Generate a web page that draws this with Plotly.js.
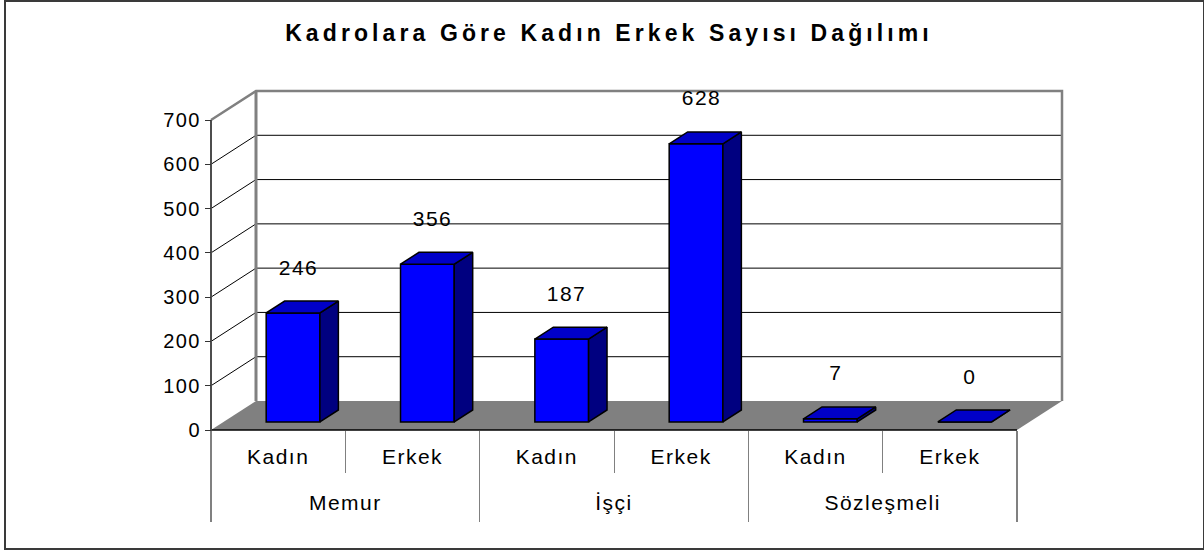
<!DOCTYPE html>
<html><head><meta charset="utf-8">
<script src="https://cdn.plot.ly/plotly-3.0.1.min.js"></script>
<style>
html,body{margin:0;padding:0;background:#fff;}
#wrap{position:relative;width:1204px;height:551px;}
#chart{width:1204px;height:551px;}
#frame{position:absolute;left:4px;top:0px;width:1197px;height:546px;border:2px solid #3a3a3a;pointer-events:none;}
#chart svg text{letter-spacing:1.5px;}
#chart svg text.gtitle{letter-spacing:4.1px;}
</style></head>
<body><div id="wrap"><div id="chart"></div><div id="frame"></div></div>
<script>
// ---- data ----
const groups  = ['Memur','Memur','İşçi','İşçi','Sözleşmeli','Sözleşmeli'];
const genders = ['Kadın','Erkek','Kadın','Erkek','Kadın','Erkek'];
const values  = [246, 356, 187, 628, 7, 0];
const yTicks  = [0, 100, 200, 300, 400, 500, 600, 700];
const titleText = 'Kadrolara Göre Kadın Erkek Sayısı Dağılımı';

// ---- layout geometry ----
const W = 1204, H = 551;
const PX_LEFT = 211, PX_RIGHT = 1017;   // front floor edge
const PY_ZERO = 430, PY_TOP = 120;      // pixel of 0 and of top tick
const ML = 203, MR = 138, MT = 85, MB = 115;
const plotW = W - ML - MR, plotH = H - MT - MB;
const n = values.length;
const idx = values.map((_, i) => i);
const uPx = (PX_RIGHT - PX_LEFT) / n;
const xr0 = -0.5 - (PX_LEFT - ML) / uPx;
const xr1 = xr0 + plotW / uPx;
const yMax = yTicks[yTicks.length - 1];
const kPx = (PY_ZERO - PY_TOP) / yMax;
const yTopV = (PY_ZERO - MT) / kPx;
const yBotV = -((H - MB) - PY_ZERO) / kPx;

const DX = 45 / uPx, DY = 29 / kPx;       // full depth of the 3D box
const F0 = 0.28, F1 = 0.69;               // bar depth position
const BW = 0.40, BL = -0.183;             // bar width & left (flattened)
const xL = -0.5, xR = n - 0.5;

// category boundaries and group centres
const allBounds = [-0.5].concat(idx.map(i => i + 0.5));
const groupNames = [], groupCenters = [], groupBounds = [-0.5];
idx.forEach(i => {
  if (i === n - 1 || groups[i + 1] !== groups[i]) {
    groupBounds.push(i + 0.5);
    const start = groupBounds[groupBounds.length - 2] + 0.5;
    groupNames.push(groups[i]);
    groupCenters.push((start + i) / 2);
  }
});

const font = 'Liberation Sans, Arial, sans-serif';
const traces = [];
const L = (o) => Object.assign({type:'scatter', mode:'lines', hoverinfo:'skip', yaxis:'y'}, o);

// floor
traces.push(L({xaxis:'x', x:[xL, xR, xR+DX, xL+DX, xL], y:[0,0,DY,DY,0],
  fill:'toself', fillcolor:'#808080', line:{width:0, color:'#808080'}}));

// back wall grid lines & side wall diagonals
const gx = [], gy = [], sx = [], sy = [];
yTicks.slice(1, -1).forEach(v => {
  gx.push(xL+DX, xR+DX, null); gy.push(v+DY, v+DY, null);
  sx.push(xL, xL+DX, null);     sy.push(v, v+DY, null);
});
traces.push(L({xaxis:'x', x:gx, y:gy, line:{color:'#000', width:1}}));
traces.push(L({xaxis:'x', x:sx, y:sy, line:{color:'#000', width:1}}));
// back wall left edge
traces.push(L({xaxis:'x', x:[xL+DX, xL+DX], y:[DY, yMax+DY], line:{color:'#808080', width:3}}));
// wall frame
traces.push(L({xaxis:'x', x:[xL, xL+DX, xR+DX, xR+DX], y:[yMax, yMax+DY, yMax+DY, DY],
  line:{color:'#808080', width:2.5}}));
// floor front edge
traces.push(L({xaxis:'x2', x:[xL, xR], y:[0, 0], line:{color:'#000', width:1.5}}));

// bar front faces
traces.push({type:'bar', xaxis:'x3', yaxis:'y', x:idx, y:values,
  base:F0*DY, offset:BL + F0*DX, width:BW,
  marker:{color:'#0000FF', line:{color:'#000', width:1.5}}, hoverinfo:'skip'});

// bar top and side faces
const tx = [], ty = [], qx = [], qy = [];
const bdx = (F1 - F0) * DX, bdy = (F1 - F0) * DY;
values.forEach((v, i) => {
  const l = i + BL + F0*DX, r = l + BW, b = F0*DY, t = b + v;
  tx.push(l, r, r+bdx, l+bdx, l, null);  ty.push(t, t, t+bdy, t+bdy, t, null);
  qx.push(r, r, r+bdx, r+bdx, r, null);  qy.push(b, t, t+bdy, b+bdy, b, null);
});
traces.push(L({xaxis:'x3', x:qx, y:qy, fill:'toself', fillcolor:'#000080', line:{color:'#000', width:1.5}}));
traces.push(L({xaxis:'x3', x:tx, y:ty, fill:'toself', fillcolor:'#0000C8', line:{color:'#000', width:1.5}}));

// front vertical axis line
traces.push(L({xaxis:'x4', x:[xL, xL], y:[0, yMax], line:{color:'#4d4d4d', width:2}}));

// value labels
const annotations = values.map((v, i) => ({
  xref:'x', yref:'y', x:i + 0.15, y:v, yshift:54, text:String(v), showarrow:false,
  font:{family:font, size:21, color:'#000'}, xanchor:'center', yanchor:'middle'}));

const xPos = ((H - MB) - PY_ZERO) / plotH;
const baseX = {range:[xr0, xr1], anchor:'free', position:xPos, showgrid:false,
  zeroline:false, showline:false, type:'linear'};
const layout = {
  width:W, height:H, margin:{l:ML, r:MR, t:MT, b:MB, pad:0},
  paper_bgcolor:'#fff', plot_bgcolor:'rgba(0,0,0,0)', showlegend:false,
  title:{text:'<b>' + titleText + '</b>', font:{family:font, size:23, color:'#000'},
    xref:'container', yref:'container', x:609/W, y:1 - 33/H, xanchor:'center', yanchor:'middle'},
  xaxis: Object.assign({}, baseX, {tickvals:allBounds, ticks:'outside', ticklen:42,
    tickwidth:1, tickcolor:'#808080', showticklabels:false}),
  xaxis2: Object.assign({}, baseX, {overlaying:'x', tickvals:groupBounds, ticks:'outside',
    ticklen:91, tickwidth:1.5, tickcolor:'#808080', showticklabels:false}),
  xaxis3: Object.assign({}, baseX, {overlaying:'x', tickvals:idx, ticktext:genders, ticks:'',
    ticklabelstandoff:12, tickfont:{family:font, size:21, color:'#000'}}),
  xaxis4: Object.assign({}, baseX, {overlaying:'x', tickvals:groupCenters, ticktext:groupNames,
    ticks:'', ticklabelstandoff:58, tickfont:{family:font, size:21, color:'#000'}}),
  yaxis:{type:'linear', range:[yBotV, yTopV], anchor:'free', position:(PX_LEFT - ML)/plotW,
    tickvals:yTicks, ticks:'outside', ticklen:6, tickwidth:1, tickcolor:'#333',
    showgrid:false, zeroline:false, showline:false,
    tickfont:{family:font, size:20, color:'#000'}},
  annotations:annotations
};
Plotly.newPlot('chart', traces, layout, {staticPlot:true, displayModeBar:false});
</script></body></html>
